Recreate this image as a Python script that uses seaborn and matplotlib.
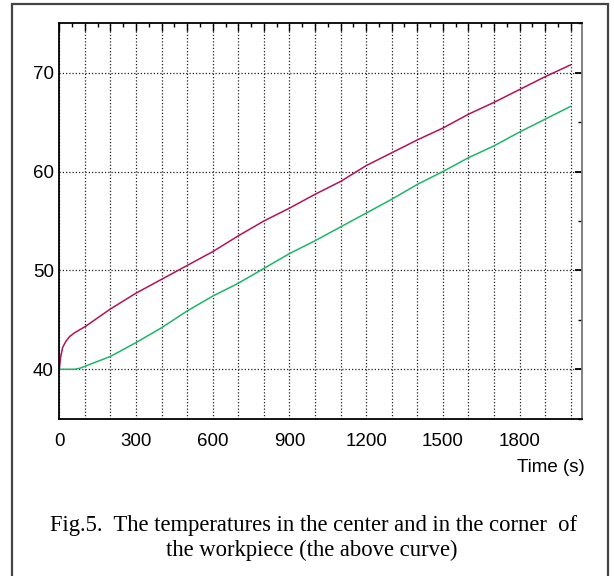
import matplotlib
matplotlib.use("Agg")
import matplotlib.pyplot as plt
from matplotlib.ticker import MultipleLocator, FuncFormatter
from matplotlib.patches import Rectangle
import seaborn as sns
import pandas as pd

# ---- data ----
time_upper = [0, 5, 13, 25, 40, 60, 80, 100, 200, 300, 400, 500, 600, 700, 800,
              900, 1000, 1100, 1200, 1300, 1400, 1500, 1600, 1700, 1800, 1900, 2000]
temp_upper = [40.0, 41.2, 42.2, 42.8, 43.3, 43.7, 44.0, 44.3, 46.1, 47.7, 49.1, 50.5,
              51.9, 53.5, 55.0, 56.3, 57.7, 59.0, 60.6, 61.9, 63.2, 64.4, 65.8,
              67.0, 68.3, 69.6, 70.8]
time_lower = [0, 60, 80, 100, 150, 200, 300, 400, 500, 600, 700, 800, 900, 1000,
              1100, 1200, 1300, 1400, 1500, 1600, 1700, 1800, 1900, 2000]
temp_lower = [40.0, 40.0, 40.1, 40.3, 40.8, 41.3, 42.7, 44.2, 45.9, 47.4, 48.7,
              50.2, 51.7, 53.0, 54.4, 55.8, 57.2, 58.7, 60.0, 61.4, 62.6, 64.0,
              65.3, 66.6]
x_label = "Time (s)"
caption_lines = ["Fig.5.  The temperatures in the center and in the corner  of",
                 "the workpiece (the above curve)"]

df = pd.concat([
    pd.DataFrame({"t": time_upper, "T": temp_upper, "curve": "corner"}),
    pd.DataFrame({"t": time_lower, "T": temp_lower, "curve": "center"}),
])

sns.set_theme(style="white")
sans = ["Liberation Sans", "DejaVu Sans"]
serif = ["Liberation Serif", "DejaVu Serif"]
plt.rcParams["font.family"] = sans
plt.rcParams["text.color"] = "black"

fig = plt.figure(figsize=(6.14, 5.76), dpi=100)
ax = fig.add_axes([59.3 / 614, 1 - 418.7 / 576, (581.7 - 59.3) / 614, (418.7 - 23.3) / 576])

sns.lineplot(data=df, x="t", y="T", hue="curve",
             palette={"corner": "#b3125c", "center": "#1fb56a"},
             linewidth=1.1, legend=False, ax=ax, estimator=None, sort=False)

ax.set_xlim(0, 2043)
ax.set_ylim(35, 75)
ax.xaxis.set_major_locator(MultipleLocator(100))
ax.xaxis.set_minor_locator(MultipleLocator(50))
ax.xaxis.set_major_formatter(FuncFormatter(lambda v, p: f"{int(round(v))}" if round(v) % 300 == 0 else ""))
ax.yaxis.set_major_locator(MultipleLocator(10))
ax.yaxis.set_minor_locator(MultipleLocator(5))
ax.set_xlabel("")
ax.set_ylabel("")

ax.tick_params(axis="both", which="both", direction="in", top=True, right=True,
               colors="black", labelsize=13.5)
ax.tick_params(axis="x", which="major", length=6, width=1.0, pad=10)
ax.tick_params(axis="x", which="minor", length=3, width=1.0)
ax.tick_params(axis="y", which="major", length=5, width=1.3, pad=4)
ax.tick_params(axis="y", which="minor", length=3, width=1.0)

ax.grid(True, which="major", color="#222222", linestyle=(0, (1, 1.6)), linewidth=0.9)
ax.set_axisbelow(True)
for s in ["left", "bottom", "top"]:
    ax.spines[s].set_color("black")
    ax.spines[s].set_linewidth(1.3)
ax.spines["right"].set_color("#777777")
ax.spines["right"].set_linewidth(1.3)

fig.text(585 / 614, 1 - 467 / 576, x_label, ha="right", va="center",
         fontsize=13.5, family=sans, color="black")
fig.text(314 / 614, 1 - 525 / 576, caption_lines[0], ha="center", va="center",
         fontsize=16.3, family=serif, color="black")
fig.text(312 / 614, 1 - 550 / 576, caption_lines[1], ha="center", va="center",
         fontsize=16.3, family=serif, color="black")

fig.patches.append(Rectangle((12 / 614, -0.01), (608 - 12) / 614, 1 - 4 / 576 + 0.01,
                             transform=fig.transFigure, fill=False,
                             edgecolor="#444444", linewidth=1.6))

fig.savefig("out.png", dpi=100)
